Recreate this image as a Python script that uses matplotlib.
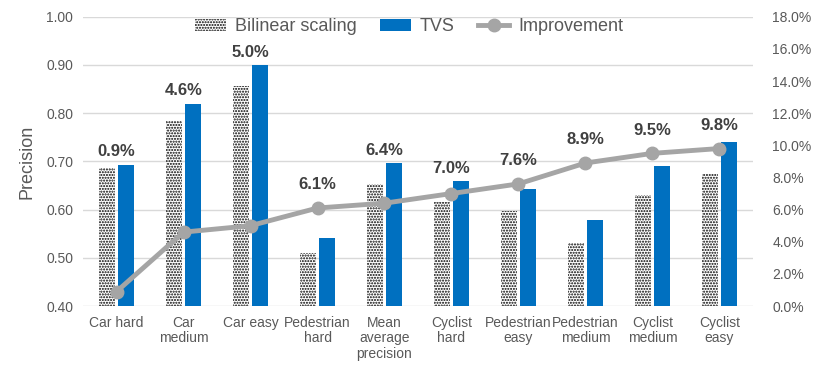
import matplotlib
matplotlib.use('Agg')
from matplotlib import pyplot as plt
from matplotlib.ticker import FuncFormatter
import numpy as np

plt.rcParams['font.family'] = ['Liberation Sans', 'DejaVu Sans']
plt.rcParams['hatch.linewidth'] = 1.0

categories = ['Car hard', 'Car\nmedium', 'Car easy', 'Pedestrian\nhard', 'Mean\naverage\nprecision',
              'Cyclist\nhard', 'Pedestrian\neasy', 'Pedestrian\nmedium', 'Cyclist\nmedium', 'Cyclist\neasy']
bilinear = [0.687, 0.784, 0.856, 0.511, 0.654, 0.616, 0.597, 0.531, 0.630, 0.674]
tvs = [0.693, 0.820, 0.899, 0.542, 0.696, 0.659, 0.642, 0.578, 0.690, 0.740]
improvement = [0.9, 4.6, 5.0, 6.1, 6.4, 7.0, 7.6, 8.9, 9.5, 9.8]

grey = '#595959'
blue = '#0070C0'
line_grey = '#A5A5A5'

fig = plt.figure(figsize=(8.14, 3.71), dpi=100)
ax = fig.add_axes([0.102, 0.175, 0.823, 0.780])
ax2 = ax.twinx()

x = np.arange(len(categories))
w = 0.24
b1 = ax.bar(x - 0.14, bilinear, w, color='white', edgecolor='black', hatch='......',
            linewidth=0, label='Bilinear scaling')
b2 = ax.bar(x + 0.14, tvs, w, color=blue, label='TVS')

ax.set_ylim(0.4, 1.0)
ax.set_xlim(-0.5, len(categories) - 0.5)
ax.set_yticks(np.arange(0.4, 1.01, 0.1))
ax.yaxis.set_major_formatter(FuncFormatter(lambda v, p: '%.2f' % v))
ax.set_xticks(x)
ax.set_xticklabels(categories, fontsize=10, color=grey, linespacing=1.15)
ax.tick_params(axis='both', length=0, labelsize=10, labelcolor=grey, pad=7)
ax.grid(axis='y', color='#D9D9D9', linewidth=1)
ax.set_axisbelow(True)
ax.set_ylabel('Precision', fontsize=13, color=grey, labelpad=8)
for s in ax.spines.values():
    s.set_visible(False)

ln, = ax2.plot(x, improvement, color=line_grey, linewidth=3.5, marker='o', markersize=9,
               label='Improvement')
ax2.set_ylim(0, 18)
ax2.set_yticks(np.arange(0, 18.1, 2))
ax2.yaxis.set_major_formatter(FuncFormatter(lambda v, p: '%.1f%%' % v))
ax2.tick_params(axis='y', length=0, labelsize=10, labelcolor=grey, pad=14)
for s in ax2.spines.values():
    s.set_visible(False)

# labels above the taller of bar top / line point
for i in range(len(categories)):
    line_eq = 0.4 + improvement[i] / 18 * 0.6
    y = max(tvs[i] + 0.027, line_eq + 0.048)
    ax.text(x[i], y, '%.1f%%' % improvement[i], ha='center', va='center',
            fontsize=12, fontweight='bold', color='#404040')

leg = ax.legend(handles=[b1, b2, ln], loc='upper center', bbox_to_anchor=(0.487, 1.05),
                ncol=3, frameon=False, fontsize=13, labelcolor=grey,
                handlelength=1.7, columnspacing=1.3, handletextpad=0.5)
leg.set_zorder(5)

fig.savefig('out.png', dpi=100)
